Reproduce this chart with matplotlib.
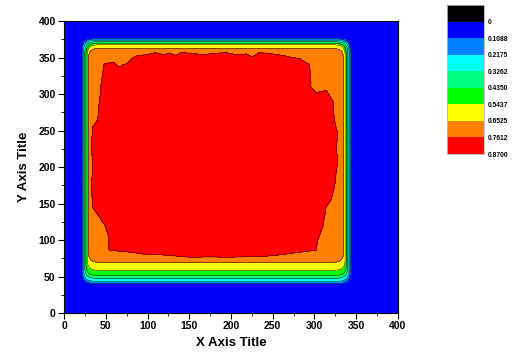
import numpy as np
import matplotlib
matplotlib.use('Agg')
import matplotlib.pyplot as plt
from matplotlib.path import Path

plt.rcParams['font.family'] = ['Liberation Sans', 'DejaVu Sans']

# contour levels and fill colours (legend shown top -> bottom)
levels = [-0.1088, 0, 0.1088, 0.2175, 0.3262, 0.4350, 0.5437, 0.6525, 0.7612, 0.8700]
level_labels = ['0', '0.1088', '0.2175', '0.3262', '0.4350', '0.5437', '0.6525', '0.7612', '0.8700']
fill_colors = ['#000000', '#0000ff', '#0080ff', '#00ffff', '#00ff80',
               '#00ff00', '#ffff00', '#ff8000', '#ff0000']

# nested ring boundaries (left, right, bottom, top)
ring_left = [21.5, 23, 24.5, 26, 27.5, 29]
ring_right = [343, 341.5, 340, 338.5, 337, 335]
ring_bottom = [40, 43, 47, 51, 58, 69]
ring_top = [376, 374, 372, 370, 368, 363]

# outline of the red core (x, y)
red_x = [48, 54, 60, 66, 70, 76, 80, 86, 98, 110, 118, 126, 134, 140, 154, 164,
         174, 184, 194, 206, 218, 226, 234, 242, 250, 262, 274, 282, 290, 294,
         296, 302, 314, 322, 324, 328, 326, 328, 324, 320, 314, 312, 310, 304, 302,
         288, 274, 254, 234, 214, 194, 174, 154, 134, 114, 94, 74, 54,
         53, 50, 42, 34, 33, 34, 33, 34, 40, 42, 44, 46]
red_y = [341, 343, 343, 337, 340, 342, 348, 352, 354, 357, 354, 356, 353, 357, 356, 354,
         355, 356, 357, 354, 355, 351, 357, 356, 355, 353, 350, 349, 343, 341,
         309, 302, 305, 291, 264, 245, 227, 209, 173, 155, 145, 132, 118, 100, 86,
         84, 82, 79, 77, 77, 76, 77, 76, 78, 80, 81, 84, 86,
         105, 118, 132, 145, 173, 200, 230, 255, 264, 286, 309, 327]

step = 0.1088
xs = np.linspace(0, 400, 801)
ys = np.linspace(0, 400, 801)
X, Y = np.meshgrid(xs, ys)
Z = np.full(X.shape, 0.05)
for l, r, b, t in zip(ring_left, ring_right, ring_bottom, ring_top):
    cx, cy = (l + r) / 2, (b + t) / 2
    hx, hy = (r - l) / 2, (t - b) / 2
    inside = (np.abs(X - cx) / hx) ** 30 + (np.abs(Y - cy) / hy) ** 30 < 1
    Z += inside * step
core = Path(np.column_stack([red_x, red_y]))
in_core = core.contains_points(np.column_stack([X.ravel(), Y.ravel()])).reshape(X.shape)
Z[in_core] += step

fig = plt.figure(figsize=(5.17, 3.56), dpi=100)
ax = fig.add_axes([0.1238, 0.1208, 0.646, 0.820])
cs = ax.contourf(X, Y, Z, levels=levels, colors=fill_colors)
ax.contour(X, Y, Z, levels=levels[2:], colors='black', linewidths=0.35)

ax.set_xlim(0, 400)
ax.set_ylim(0, 400)
ax.set_xticks(np.arange(0, 401, 50))
ax.set_yticks(np.arange(0, 401, 50))
ax.set_xticks(np.arange(0, 401, 25), minor=True)
ax.set_yticks(np.arange(0, 401, 25), minor=True)
ax.tick_params(which='major', direction='out', length=4, width=0.8, labelsize=7.5, pad=2)
ax.tick_params(which='minor', direction='out', length=2, width=0.6)
for lab in ax.get_xticklabels() + ax.get_yticklabels():
    lab.set_fontweight('bold')
ax.set_xlabel('X Axis Title', fontsize=9.5, fontweight='bold', labelpad=4)
ax.set_ylabel('Y Axis Title', fontsize=9.5, fontweight='bold', labelpad=6)

cax = fig.add_axes([0.8646, 0.5674, 0.0716, 0.4185])
cbar = fig.colorbar(cs, cax=cax)
cax.invert_yaxis()
cbar.set_ticks(levels[1:])
cbar.set_ticklabels(level_labels)
cax.tick_params(length=0, labelsize=4.8, pad=3)
for lab in cax.get_yticklabels():
    lab.set_fontweight('bold')
cbar.outline.set_edgecolor('#bbbbbb')
cbar.outline.set_linewidth(0.6)

fig.savefig('out.png', dpi=100)
